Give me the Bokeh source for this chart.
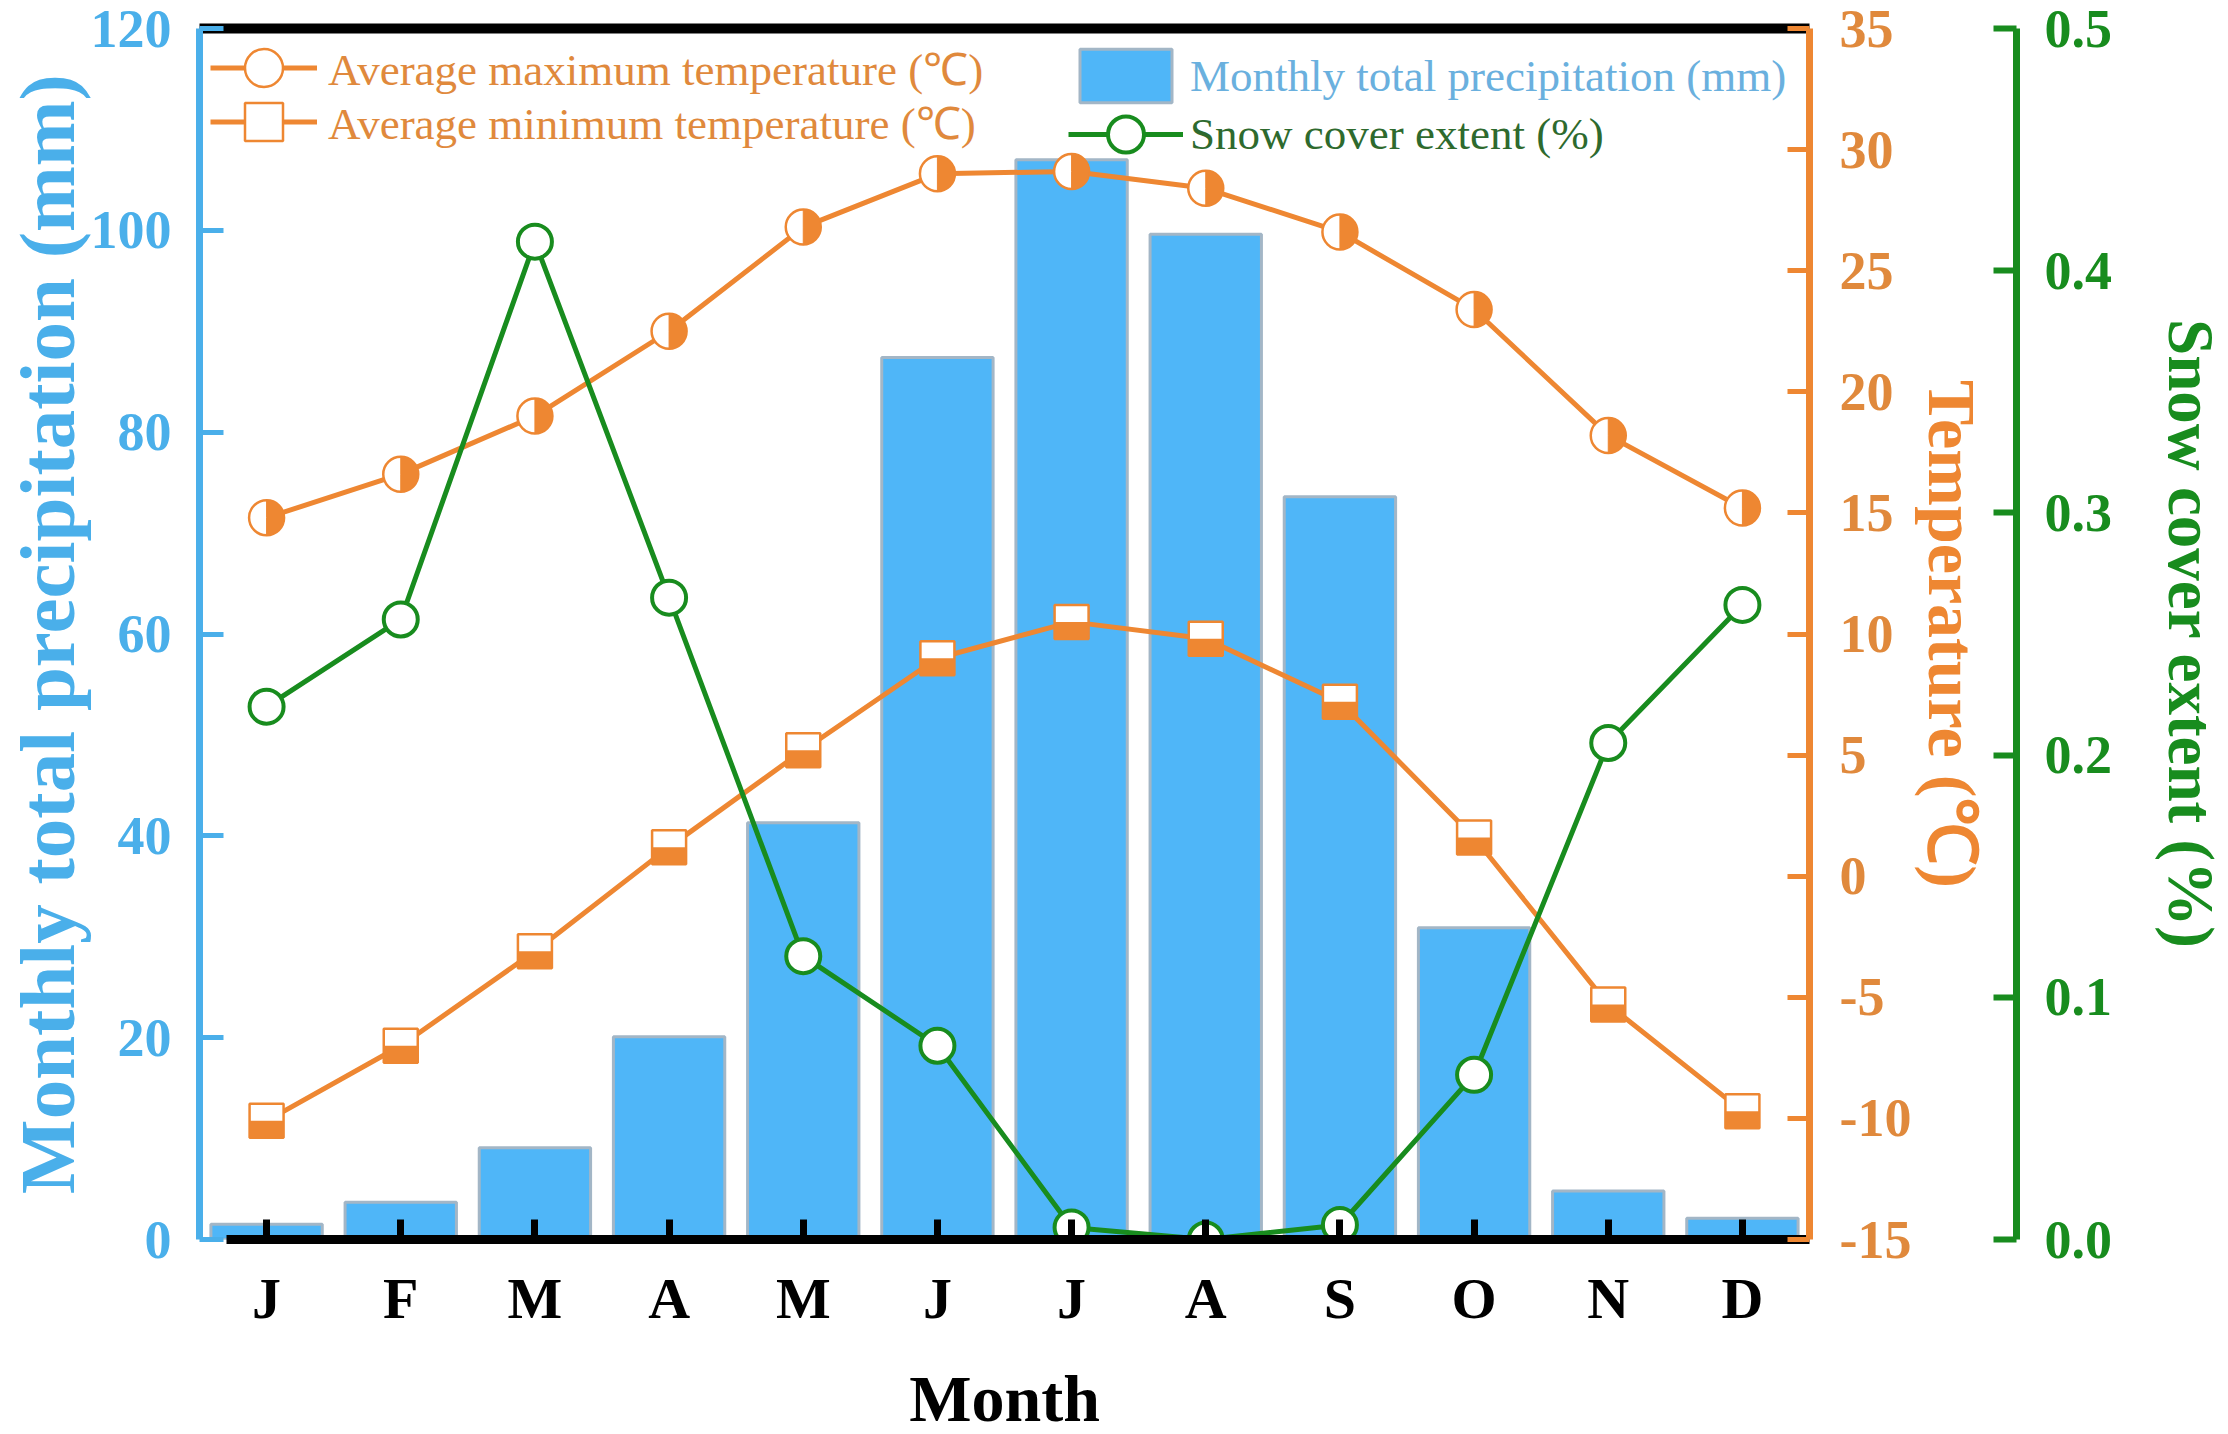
import math
from bokeh.plotting import figure
from bokeh.models import (Range1d, LinearAxis, FixedTicker, PrintfTickFormatter,
                          Legend, LegendItem, ColumnDataSource)
from bokeh.embed import file_html
from bokeh.resources import INLINE

# ---------------- data ----------------
months = list(range(1, 13))
month_labels = ["J", "F", "M", "A", "M", "J", "J", "A", "S", "O", "N", "D"]
precip = [1.5, 3.7, 9.1, 20.1, 41.3, 87.4, 107.0, 99.6, 73.6, 30.9, 4.8, 2.1]
tmax = [14.8, 16.6, 19.0, 22.5, 26.8, 29.0, 29.1, 28.4, 26.6, 23.4, 18.2, 15.2]
tmin = [-10.1, -7.0, -3.1, 1.2, 5.2, 9.0, 10.5, 9.8, 7.2, 1.6, -5.3, -9.7]
snow = [0.220, 0.256, 0.412, 0.265, 0.117, 0.080, 0.005, 0.000, 0.006, 0.068, 0.205, 0.262]

precip_ticks = [0, 20, 40, 60, 80, 100, 120]
temp_ticks = [-15, -10, -5, 0, 5, 10, 15, 20, 25, 30, 35]
snow_ticks = [0.0, 0.1, 0.2, 0.3, 0.4, 0.5]

# ---------------- styles ----------------
FONT = "Liberation Serif"
BAR = "#4FB6F8"
BAR_EDGE = "#A3B6C6"
BLUE = "#4AAFEA"
BLUE_TXT = "#6AB0DE"
ORANGE = "#EE8732"
ORANGE_TXT = "#E0893C"
GREEN = "#188C1E"
GREEN_TXT = "#2E6A2E"

src = ColumnDataSource(dict(m=months, precip=precip, tmax=tmax, tmin=tmin, snow=snow))

p = figure(frame_width=1610, frame_height=1211,
           x_range=Range1d(0.5, 12.5), y_range=Range1d(0, 120),
           output_backend="svg", toolbar_location=None,
           min_border_left=0, min_border_right=0, min_border_top=28, min_border_bottom=0)
p.extra_y_ranges = {"temp": Range1d(-15, 35), "snow": Range1d(0, 0.5)}
p.grid.visible = False
p.outline_line_color = None
p.background_fill_color = "white"
p.border_fill_color = "white"

# ---- x axis ----
xa = p.xaxis[0]
xa.ticker = FixedTicker(ticks=months)
xa.major_label_overrides = {m: l for m, l in zip(months, month_labels)}
xa.axis_line_color = "black"
xa.axis_line_width = 9
xa.major_tick_in = 20
xa.major_tick_out = 0
xa.major_tick_line_width = 7
xa.major_tick_line_color = "black"
xa.minor_tick_line_color = None
xa.major_label_text_font = FONT
xa.major_label_text_font_size = "58px"
xa.major_label_text_font_style = "bold"
xa.major_label_text_color = "black"
xa.major_label_standoff = 26
xa.axis_label = "Month"
xa.axis_label_text_font = FONT
xa.axis_label_text_font_size = "66px"
xa.axis_label_text_font_style = "bold"
xa.axis_label_text_color = "black"
xa.axis_label_standoff = 28
xa.bounds = (0.7, 12.5)

# ---- left axis (precipitation) ----
ya = p.yaxis[0]
ya.ticker = FixedTicker(ticks=precip_ticks)
ya.formatter = PrintfTickFormatter(format="%d")
ya.axis_line_color = BLUE
ya.axis_line_width = 7
ya.major_tick_in = 24
ya.major_tick_out = 0
ya.major_tick_line_width = 5
ya.major_tick_line_color = BLUE
ya.minor_tick_line_color = None
ya.major_label_text_font = FONT
ya.major_label_text_font_size = "54px"
ya.major_label_text_font_style = "bold"
ya.major_label_text_color = BLUE
ya.major_label_standoff = 28
ya.axis_label = "Monthly total precipitation (mm)"
ya.axis_label_text_font = FONT
ya.axis_label_text_font_size = "79px"
ya.axis_label_text_font_style = "bold"
ya.axis_label_text_color = BLUE
ya.axis_label_standoff = -3

# ---- top border line ----
top = LinearAxis(ticker=FixedTicker(ticks=[]))
top.axis_line_color = "black"
top.axis_line_width = 10
top.major_tick_line_color = None
top.minor_tick_line_color = None
top.major_tick_in = 0
top.major_tick_out = 0
top.major_label_text_font_size = "0px"
top.major_label_standoff = 0
p.add_layout(top, "above")

# ---- right axis (temperature) ----
ax_t = LinearAxis(y_range_name="temp", ticker=FixedTicker(ticks=temp_ticks),
                  formatter=PrintfTickFormatter(format="%d"))
ax_t.axis_line_color = ORANGE
ax_t.axis_line_width = 7
ax_t.major_tick_in = 22
ax_t.major_tick_out = 0
ax_t.major_tick_line_width = 5
ax_t.major_tick_line_color = ORANGE
ax_t.minor_tick_line_color = None
ax_t.major_label_text_font = FONT
ax_t.major_label_text_font_size = "54px"
ax_t.major_label_text_font_style = "bold"
ax_t.major_label_text_color = ORANGE_TXT
ax_t.major_label_standoff = 30
ax_t.axis_label = "Temperature (℃)"
ax_t.axis_label_text_font = FONT
ax_t.axis_label_text_font_size = "68px"
ax_t.axis_label_text_font_style = "bold"
ax_t.axis_label_text_color = ORANGE
ax_t.axis_label_standoff = 0
p.add_layout(ax_t, "right")

# ---- spacer between the two right axes ----
gap = LinearAxis(y_range_name="temp", ticker=FixedTicker(ticks=[]))
gap.axis_line_color = None
gap.major_tick_line_color = None
gap.minor_tick_line_color = None
gap.major_tick_in = 0
gap.major_tick_out = 0
gap.major_label_text_font_size = "0px"
gap.major_label_standoff = 0
gap.axis_label = " "
gap.axis_label_text_font_size = "1px"
gap.axis_label_standoff = 19
p.add_layout(gap, "right")

# ---- right axis (snow cover) ----
ax_s = LinearAxis(y_range_name="snow", ticker=FixedTicker(ticks=snow_ticks),
                  formatter=PrintfTickFormatter(format="%.1f"))
ax_s.axis_line_color = GREEN
ax_s.axis_line_width = 7
ax_s.major_tick_in = 23
ax_s.major_tick_out = 0
ax_s.major_tick_line_width = 6
ax_s.major_tick_line_color = GREEN
ax_s.minor_tick_line_color = None
ax_s.major_label_text_font = FONT
ax_s.major_label_text_font_size = "54px"
ax_s.major_label_text_font_style = "bold"
ax_s.major_label_text_color = GREEN
ax_s.major_label_standoff = 28
ax_s.axis_label = "Snow cover extent (%)"
ax_s.axis_label_text_font = FONT
ax_s.axis_label_text_font_size = "65px"
ax_s.axis_label_text_font_style = "bold"
ax_s.axis_label_text_color = GREEN
ax_s.axis_label_standoff = 40
p.add_layout(ax_s, "right")

# ---------------- glyphs ----------------
r_bar = p.vbar(x="m", top="precip", bottom=0, width=0.83, source=src,
               fill_color=BAR, line_color=BAR_EDGE, line_width=3)

r_tmax_line = p.line(x="m", y="tmax", source=src, y_range_name="temp",
                     line_color=ORANGE, line_width=5)
r_tmax_pt = p.scatter(x="m", y="tmax", source=src, y_range_name="temp", marker="circle",
                      size=35, fill_color="white", line_color=ORANGE, line_width=2.5)
p.wedge(x="m", y="tmax", source=src, y_range_name="temp", radius=17.5, radius_units="screen",
        start_angle=-math.pi / 2, end_angle=math.pi / 2,
        fill_color=ORANGE, line_color=ORANGE, line_width=1)

r_tmin_line = p.line(x="m", y="tmin", source=src, y_range_name="temp",
                     line_color=ORANGE, line_width=5)
r_tmin_pt = p.scatter(x="m", y="tmin", source=src, y_range_name="temp", marker="square",
                      size=34, fill_color="white", line_color=ORANGE, line_width=2.5)
p.ray(x="m", y="tmin", source=src, y_range_name="temp", length=17, length_units="screen",
      angle=-math.pi / 2, line_width=34, line_color=ORANGE)

r_snow_line = p.line(x="m", y="snow", source=src, y_range_name="snow",
                     line_color=GREEN, line_width=5)
r_snow_pt = p.scatter(x="m", y="snow", source=src, y_range_name="snow", marker="circle",
                      size=34, fill_color="white", line_color=GREEN, line_width=4)

# ---------------- legends ----------------
def make_legend(item, loc, gw, gh, color, standoff):
    return Legend(items=[item], location=loc, glyph_width=gw, glyph_height=gh,
                  spacing=0, padding=0, margin=0, label_standoff=standoff,
                  label_text_font=FONT, label_text_font_size="45px",
                  label_text_color=color, border_line_color=None,
                  background_fill_alpha=0)

legends = [
    make_legend(LegendItem(label="Average maximum temperature (℃)",
                           renderers=[r_tmax_line, r_tmax_pt]),
                (11, 1124), 107, 95, ORANGE_TXT, 11),
    make_legend(LegendItem(label="Average minimum temperature (℃)",
                           renderers=[r_tmin_line, r_tmin_pt]),
                (11, 1070), 107, 95, ORANGE_TXT, 11),
    make_legend(LegendItem(label="Monthly total precipitation (mm)", renderers=[r_bar]),
                (869, 1130), 115, 67, BLUE_TXT, 7),
    make_legend(LegendItem(label="Snow cover extent (%)",
                           renderers=[r_snow_line, r_snow_pt]),
                (869, 1060), 115, 90, GREEN_TXT, 7),
]
for lg in legends:
    p.add_layout(lg)

open("out.html", "w").write(file_html(p, INLINE))
